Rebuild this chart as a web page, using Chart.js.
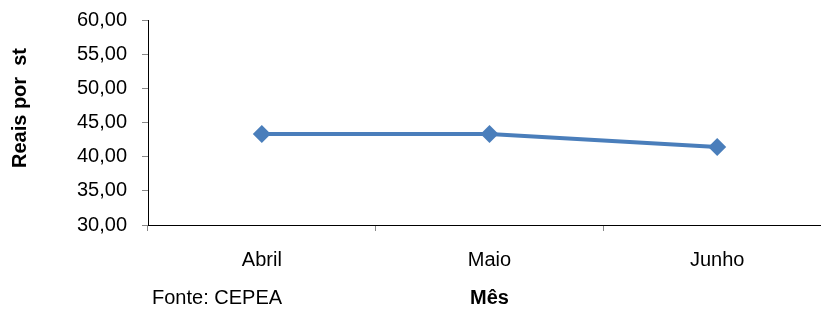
<!DOCTYPE html>
<html>
<head>
<meta charset="utf-8">
<script src="https://cdn.jsdelivr.net/npm/chart.js@4"></script>
<style>
  html, body { margin: 0; padding: 0; background: #fff; overflow: hidden; }
  #wrap { width: 840px; height: 309px; }
</style>
</head>
<body>
<div id="wrap"><canvas id="precoChart"></canvas></div>
<script>
// dados
const meses = ['Abril', 'Maio', 'Junho'];
const precos = [43.3, 43.3, 41.4];
const yTicks = [30, 35, 40, 45, 50, 55, 60];

const fonte = 'Liberation Sans, Arial, sans-serif';

// textos fora dos eixos: "Fonte: CEPEA" e título vertical
const textosPlugin = {
  id: 'textos',
  afterDraw(chart) {
    const c = chart.ctx;
    c.save();
    c.fillStyle = '#000';
    c.textBaseline = 'middle';
    c.font = '20px ' + fonte;
    c.textAlign = 'left';
    c.fillText('Fonte: CEPEA', 152, 298);
    c.translate(20, 108);
    c.rotate(-Math.PI / 2);
    c.textAlign = 'center';
    c.font = 'bold 20px ' + fonte;
    c.fillText('Reais por  st', 0, 0);
    c.restore();
  }
};

new Chart(document.getElementById('precoChart'), {
  type: 'line',
  data: {
    labels: meses,
    datasets: [{
      data: precos,
      borderColor: '#4a7ebb',
      backgroundColor: '#4a7ebb',
      borderWidth: 4,
      pointStyle: 'rectRot',
      pointRadius: 9,
      pointBorderWidth: 0,
      tension: 0
    }]
  },
  options: {
    responsive: true,
    maintainAspectRatio: false,
    animation: false,
    devicePixelRatio: 1,
    layout: { padding: { top: 20, right: 8, left: 0, bottom: 0 } },
    plugins: {
      legend: { display: false },
      tooltip: { enabled: false }
    },
    scales: {
      x: {
        offset: true,
        grid: {
          offset: true,
          drawOnChartArea: false,
          tickLength: 6,
          color: '#888'
        },
        border: { color: '#000', width: 1 },
        ticks: {
          color: '#000',
          font: { family: fonte, size: 20 },
          padding: 17,
          maxRotation: 0
        },
        title: {
          display: true,
          text: 'Mês',
          color: '#000',
          font: { family: fonte, size: 20, weight: 'bold', lineHeight: 1 },
          padding: { top: 0, bottom: 1 }
        },
        afterFit(scale) { scale.height = 84; }
      },
      y: {
        min: 30,
        max: 60,
        afterBuildTicks(scale) {
          scale.ticks = yTicks.map(v => ({ value: v }));
        },
        grid: {
          drawOnChartArea: false,
          tickLength: 6,
          color: '#888'
        },
        border: { color: '#000', width: 1 },
        ticks: {
          color: '#000',
          font: { family: fonte, size: 20 },
          padding: 15,
          callback: v => v.toFixed(2).replace('.', ',')
        },
        afterFit(scale) {
          scale.width = 148;
          scale.paddingTop = 20;
          scale.paddingBottom = 12;
        }
      }
    }
  },
  plugins: [textosPlugin]
});
</script>
</body>
</html>
